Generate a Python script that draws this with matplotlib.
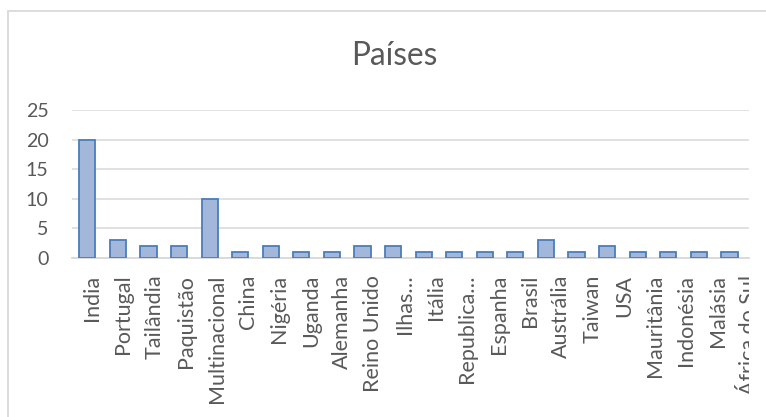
import matplotlib
matplotlib.use("Agg")
from matplotlib import pyplot as plt
from matplotlib.patches import Rectangle
from matplotlib.transforms import Bbox
import numpy as np

# data
paises = ["India", "Portugal", "Tailândia", "Paquistão", "Multinacional",
          "China", "Nigéria", "Uganda", "Alemanha", "Reino Unido", "Ilhas…",
          "Itália", "Republica…", "Espanha", "Brasil", "Austrália", "Taiwan",
          "USA", "Mauritânia", "Indonésia", "Malásia", "África do Sul"]
contagem = [20, 3, 2, 2, 10, 1, 2, 1, 1, 2, 2, 1, 1, 1, 1, 3, 1, 2, 1, 1, 1, 1]
yticks = [0, 5, 10, 15, 20, 25]

W, H = 766, 417
DPI = 100
plt.rcParams['font.family'] = ['Lato', 'DejaVu Sans']
txt = '#595959'
grid = '#d9d9d9'

fig = plt.figure(figsize=(W / DPI, H / DPI), dpi=DPI)
r = fig.canvas.get_renderer()


def fit_size(s, px):
    t = fig.text(0, 0, s, fontsize=10)
    w = t.get_window_extent(r).width
    t.remove()
    return 10 * px / w


cat_fs = fit_size("Multinacional", 128)
num_fs = fit_size("25", 23)
title_fs = fit_size("Países", 86)

ax = fig.add_axes([72 / W, 1 - 258 / H, (749 - 72) / W, (258 - 110) / H])

x = np.arange(len(paises))
ax.bar(x, contagem, width=0.53, color='#a3b7da', edgecolor='#4a7ebb',
       linewidth=1.3, zorder=3)

ax.set_xlim(-0.5, len(paises) - 0.5)
ax.set_ylim(0, 25)
ax.set_yticks(yticks)
ax.set_yticklabels([str(v) for v in yticks])
ax.yaxis.grid(True, color=grid, linewidth=1.1, zorder=0)
ax.tick_params(axis='y', length=0, pad=17, labelsize=num_fs, labelcolor=txt)
ax.tick_params(axis='x', length=0, pad=12, labelsize=cat_fs, labelcolor=txt)
# labels in the reference drift slightly right of the bars
lbl_pos = (x + 0.5) * 1.0237 - 0.5 + 0.13
ax.set_xticks(lbl_pos)
ax.set_xticklabels(paises, rotation=90, ha='center', va='top')

for s in ['top', 'right', 'left']:
    ax.spines[s].set_visible(False)
ax.spines['bottom'].set_color(grid)
ax.spines['bottom'].set_linewidth(1.3)

# chart area ends at the right edge: the last label is cut there
clip = Bbox.from_extents(0, 0, 749, H)
for lbl in ax.get_xticklabels():
    lbl.set_clip_box(clip)
    lbl.set_clip_on(True)

fig.text(394 / W, 1 - 56 / H, "Países", ha='center', va='center',
         fontsize=title_fs, color=txt)

# chart border (cropped on right and bottom)
fig.patches.append(Rectangle((7.5 / W, -0.1), 1.2, 1.1 - 10.5 / H,
                             transform=fig.transFigure, fill=False,
                             edgecolor=grid, linewidth=1.3, zorder=11))

fig.savefig("out.png", dpi=DPI)
